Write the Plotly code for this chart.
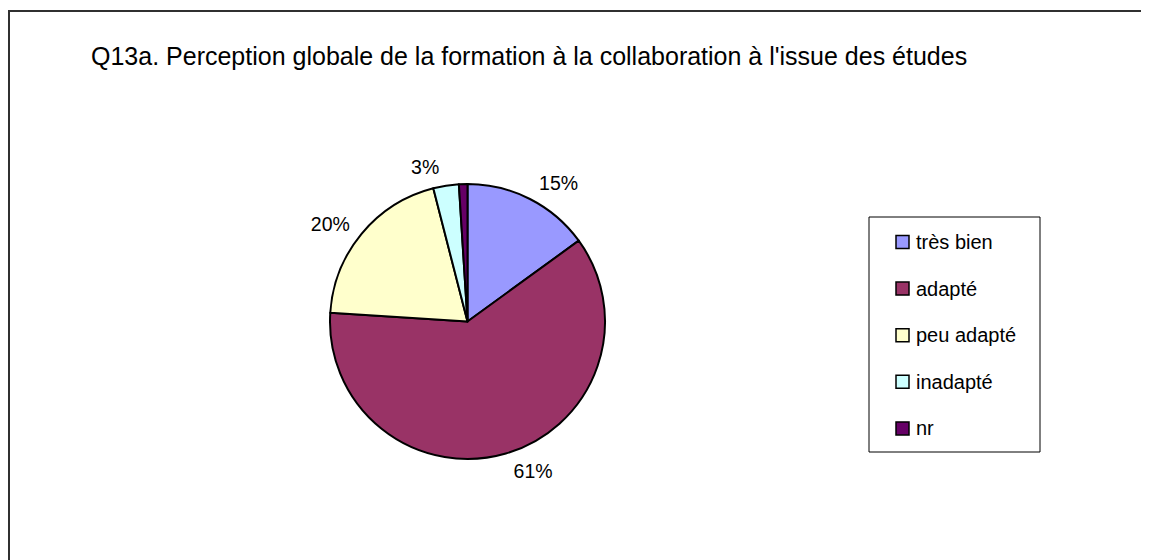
import plotly.graph_objects as go

W, H = 1149, 560
OFF = 8  # the page body has an 8px margin

labels = ["très bien", "adapté", "peu adapté", "inadapté", "nr"]
values = [15, 61, 20, 3, 1]
shown = [True, True, True, True, False]
colors = ["#9999FF", "#993366", "#FFFFCC", "#CCFFFF", "#660066"]
title = "Q13a. Perception globale de la formation à la collaboration à l'issue des études"

FONT = "Liberation Sans, Arial, sans-serif"


def px(x):
    return (x - OFF) / W


def py(y):
    return 1 - (y - OFF) / H


total = sum(values)
texts = ["{:.0f}%".format(100 * v / total) if s else "" for v, s in zip(values, shown)]

# pie centred ~ (467, 321), radius ~137
cx, cy, r = 467.5, 321.5, 137.5


def domain(rad):
    return dict(x=[px(cx - rad), px(cx + rad)], y=[py(cy + rad), py(cy - rad)])


pie = go.Pie(
    labels=labels,
    values=values,
    sort=False,
    direction="clockwise",
    rotation=0,
    marker=dict(colors=colors, line=dict(color="black", width=2)),
    textinfo="none",
    showlegend=False,
    hoverinfo="label+percent",
    domain=domain(r),
)

# transparent, slightly larger copy that only carries the outside labels
# (Excel puts them a bit further from the rim than plotly does)
label_ring = go.Pie(
    labels=labels,
    values=values,
    text=texts,
    texttemplate="%{text}",
    textposition="outside",
    sort=False,
    direction="clockwise",
    rotation=0,
    marker=dict(colors=["rgba(0,0,0,0)"] * len(values), line=dict(width=0)),
    textfont=dict(family=FONT, size=19.5, color="black"),
    showlegend=False,
    hoverinfo="skip",
    domain=domain(r + 8),
)

fig = go.Figure([label_ring, pie])

shapes = [
    # chart frame (only top/left visible in the crop)
    dict(type="rect", xref="paper", yref="paper",
         x0=px(9), x1=px(W + 40), y0=py(11), y1=py(H + 40),
         line=dict(color="#303030", width=2), fillcolor="rgba(0,0,0,0)"),
    # legend box
    dict(type="rect", xref="paper", yref="paper",
         x0=px(869), x1=px(1040), y0=py(217), y1=py(452),
         line=dict(color="black", width=1), fillcolor="white"),
]
annotations = [
    dict(text=title, xref="paper", yref="paper", x=px(89), y=py(56),
         xanchor="left", yanchor="middle", showarrow=False,
         font=dict(family=FONT, size=25, color="black")),
]

row0, step = 242, 46.6
for i, (lab, col) in enumerate(zip(labels, colors)):
    yc = row0 + i * step
    shapes.append(dict(type="rect", xref="paper", yref="paper",
                       x0=px(896), x1=px(909), y0=py(yc + 6.5), y1=py(yc - 6.5),
                       line=dict(color="black", width=1.5), fillcolor=col))
    annotations.append(dict(text=lab, xref="paper", yref="paper",
                            x=px(914), y=py(yc), xanchor="left", yanchor="middle",
                            showarrow=False,
                            font=dict(family=FONT, size=20, color="black")))

fig.update_layout(
    width=W, height=H,
    margin=dict(l=0, r=0, t=0, b=0),
    paper_bgcolor="white",
    plot_bgcolor="white",
    shapes=shapes,
    annotations=annotations,
)

fig.write_html("out.html")
